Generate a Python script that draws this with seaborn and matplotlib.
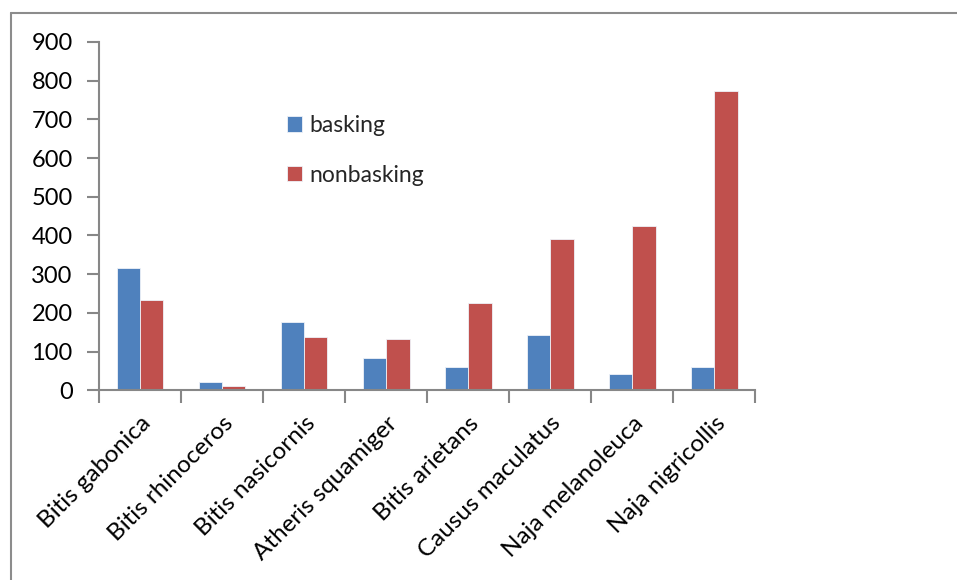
import matplotlib
matplotlib.use("Agg")
import matplotlib.pyplot as plt
from matplotlib.lines import Line2D
from matplotlib.ticker import FixedLocator, MultipleLocator
import pandas as pd
import seaborn as sns

species = [
    "Bitis gabonica", "Bitis rhinoceros", "Bitis nasicornis", "Atheris squamiger",
    "Bitis arietans", "Causus maculatus", "Naja melanoleuca", "Naja nigricollis",
]
basking = [316, 22, 177, 84, 60, 142, 43, 60]
nonbasking = [233, 11, 138, 133, 226, 390, 424, 773]
series_names = ["basking", "nonbasking"]
series_colors = ["#4F81BD", "#C0504D"]

df = pd.DataFrame({
    "species": species * 2,
    "series": [series_names[0]] * len(species) + [series_names[1]] * len(species),
    "value": basking + nonbasking,
})

sns.set_theme(style="white")
plt.rcParams["font.family"] = ["Lato", "DejaVu Sans"]

W, H = 957, 580
fig = plt.figure(figsize=(W / 100, H / 100), dpi=100)
ax = fig.add_axes([99 / W, 1 - 390.3 / H, (755.3 - 99) / W, (390.3 - 42) / H])

sns.barplot(
    data=df, x="species", y="value", hue="series", order=species,
    hue_order=series_names, palette=series_colors, width=0.57, dodge=True,
    saturation=1, edgecolor="#eef2f8", linewidth=0.6, ax=ax, legend=True,
)

ax.set_xlim(-0.5, len(species) - 0.5)
ax.set_ylim(0, 900)
ax.yaxis.set_major_locator(MultipleLocator(100))
ax.set_xlabel("")
ax.set_ylabel("")

axis_grey = "#878787"
for side in ["top", "right"]:
    ax.spines[side].set_visible(False)
for side in ["left", "bottom"]:
    ax.spines[side].set_color(axis_grey)
    ax.spines[side].set_linewidth(1.5)

# category labels centred, tick marks on the category boundaries
ax.xaxis.set_minor_locator(FixedLocator([i - 0.5 for i in range(len(species) + 1)]))
ax.tick_params(axis="x", which="major", length=0, pad=16, labelsize=17.5, labelcolor="black")
ax.tick_params(axis="x", which="minor", length=9, width=1.5, color=axis_grey, direction="out", bottom=True)
ax.tick_params(axis="y", which="major", length=9, width=1.5, color=axis_grey, direction="out",
               left=True, pad=10, labelsize=17, labelcolor="black")
for lbl in ax.get_xticklabels():
    lbl.set_rotation(45)
    lbl.set_ha("right")
    lbl.set_rotation_mode("anchor")

# legend
handles, labels = ax.get_legend_handles_labels()
ax.legend_.remove()
fig.legend(
    handles, labels, loc="upper left", bbox_to_anchor=(278 / W, 1 - 106 / H),
    frameon=False, fontsize=16.5, handlelength=0.65, handleheight=0.65,
    handletextpad=0.3, labelspacing=1.25, borderaxespad=0,
)

# outer chart frame: top and left edges
frame_kw = dict(transform=fig.transFigure, color="#8c8c8c", linewidth=1.5, clip_on=False)
fig.add_artist(Line2D([10.5 / W, 1.0], [1 - 12.5 / H, 1 - 12.5 / H], **frame_kw))
fig.add_artist(Line2D([10.5 / W, 10.5 / W], [0.0, 1 - 12.5 / H], **frame_kw))

fig.savefig("out.png", dpi=100)
